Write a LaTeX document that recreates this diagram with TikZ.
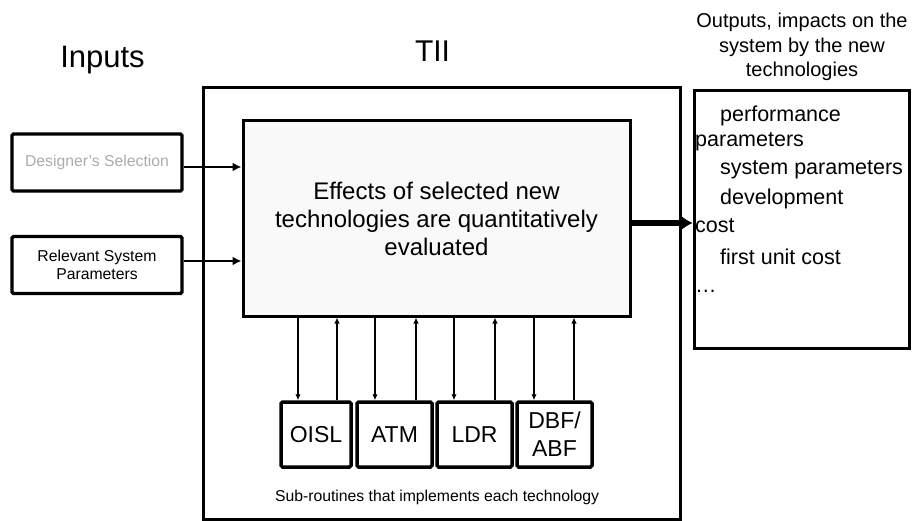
\documentclass[tikz,border=0pt]{standalone}
\usepackage{fontspec}
\setmainfont{Liberation Sans}
\usetikzlibrary{arrows.meta}
\begin{document}
\begin{tikzpicture}[x=1pt,y=-1pt,
  frame/.style={draw, line width=3pt, inner sep=0pt},
  inbox/.style={draw, line width=3.2pt, rounded corners=1.5pt, inner sep=0pt,
    minimum width=170pt, minimum height=57pt, align=center,
    font=\fontsize{15.75}{18.5}\selectfont},
  subbox/.style={draw, line width=3.5pt, rounded corners=1.5pt, inner sep=0pt,
    minimum width=75pt, minimum height=65pt, align=center,
    font=\fontsize{23}{28}\selectfont},
  outline/.style={anchor=base west, inner sep=0pt, font=\fontsize{21.5}{26}\selectfont},
  feed/.style={line width=2.5pt, -{Latex[length=9pt,width=9pt]}},
  result/.style={line width=6pt, -{Latex[length=13pt,width=18pt]}},
  link/.style={line width=1.3pt, -{Latex[length=6pt,width=5.5pt]}}
]
\useasboundingbox (0,0) rectangle (912,521);

% headings
\node[anchor=base, inner sep=0pt, font=\fontsize{31}{36}\selectfont] (inputs) at (102.5,67.5) {Inputs};
\node[anchor=base, inner sep=0pt, font=\fontsize{30}{34}\selectfont] (tii) at (432.5,61.5) {TII};
\node[align=center, inner sep=0pt, font=\fontsize{20}{24.5}\selectfont] (outtitle) at (802,47.3)
  {Outputs, impacts on the\\system by the new\\technologies};

% TII frame and evaluation block
\node[frame, minimum width=477pt, minimum height=431pt] (tiibox) at (441.5,303.5) {};
\node[frame, fill=gray!5, minimum width=387pt, minimum height=195pt, align=center,
  font=\fontsize{24}{28}\selectfont] (eval) at (436.5,218.5)
  {Effects of selected new\\technologies are quantitatively\\evaluated};

% input boxes
\node[inbox, text=black!33] (ds) at (97,162.5) {Designer's Selection};
\node[inbox] (rsp) at (97,265) {Relevant System\\Parameters};

% output box
\node[frame, minimum width=215pt, minimum height=257pt] (outbox) at (801.5,219.5) {};
\node[outline] (o1) at (720,122) {performance};
\node[outline] (o2) at (695,147) {parameters};
\node[outline] (o3) at (720,175) {system parameters};
\node[outline] (o4) at (720,205) {development};
\node[outline] (o5) at (695,233) {cost};
\node[outline] (o6) at (720,265) {first unit cost};
\node[outline] (o7) at (695,292) {…};

% technology sub-routines
\node[subbox, minimum width=70pt] (oisl) at (316,434.5) {OISL};
\node[subbox] (atm) at (394.5,434.5) {ATM};
\node[subbox] (ldr) at (474.5,434.5) {LDR};
\node[subbox] (dbf) at (554.5,434.5) {DBF/\\ABF};
\node[inner sep=0pt, font=\fontsize{15.75}{18}\selectfont] (caption) at (437,497)
  {Sub-routines that implements each technology};

% input arrows
\coordinate (dsout) at ([yshift=-4.5pt]ds.east);
\coordinate (rspout) at ([yshift=4pt]rsp.east);
\draw[feed] (dsout) -- (dsout -| eval.west);
\draw[feed] (rspout) -- (rspout -| eval.west);

% output arrow
\coordinate (evalout) at ([yshift=-4.5pt]eval.east);
\draw[result] (evalout) -- (evalout -| outbox.west);

% calls to and returns from each sub-routine
\foreach \b/\d/\u in {oisl/298/337, atm/375/416, ldr/454/495, dbf/534/574} {
  \draw[link] (\d,0 |- eval.south) -- (\d,0 |- \b.north);
  \draw[link] (\u,0 |- \b.north) -- (\u,0 |- eval.south);
}
\end{tikzpicture}
\end{document}
